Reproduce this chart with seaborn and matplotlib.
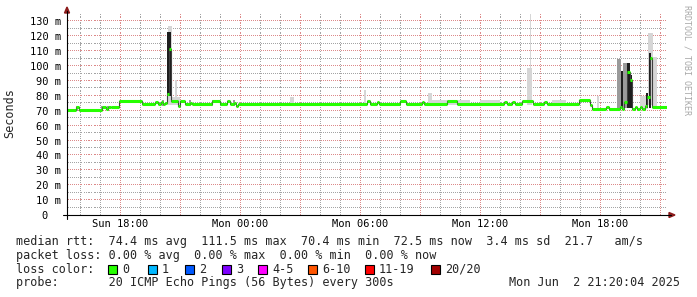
import numpy as np
import pandas as pd
import matplotlib
matplotlib.use("Agg")
import matplotlib.pyplot as plt
import seaborn as sns
from matplotlib.patches import Rectangle, Polygon
from matplotlib.lines import Line2D

# ---------------- data ----------------
# median rtt (ms), step values starting at each hour mark (hours since Sun 00:00)
med_hours = [15.35, 15.80, 15.95, 17.10, 17.30, 17.40, 17.55, 17.95, 19.10, 19.75,
             19.90, 20.05, 20.15, 20.25, 20.35, 20.45, 20.55, 20.90, 21.00, 21.25,
             21.50, 21.60, 22.60, 23.00, 23.35, 23.50, 23.70, 23.80, 23.90, 30.35,
             30.50, 30.85, 30.95, 32.00, 32.30, 33.10, 33.20, 34.35, 34.85, 37.20,
             37.35, 37.60, 37.75, 38.10, 38.65, 39.20, 39.35, 40.95, 41.50, 41.60,
             42.30, 42.45, 43.00, 43.10, 43.20, 43.35, 43.50, 43.60, 43.75, 43.85,
             44.00, 44.10, 44.25, 44.35, 44.50, 44.60, 45.35]
med_ms = [70.8, 72.3, 70.8, 72.3, 71.0, 72.3, 72.6, 76.6, 74.4, 76.0,
          74.4, 76.0, 74.4, 75.5, 81.0, 111.5, 76.6, 73.5, 76.6, 74.4,
          75.5, 74.4, 76.6, 74.4, 76.6, 74.4, 75.5, 73.5, 74.4, 76.6,
          74.4, 76.0, 74.4, 76.6, 74.4, 76.0, 74.4, 76.6, 74.4, 76.0,
          74.4, 76.0, 74.4, 76.6, 74.4, 76.0, 74.4, 77.3, 74.0, 70.9,
          72.3, 70.9, 72.3, 70.9, 76.0, 96.2, 90.6, 70.9, 72.3, 70.9,
          72.3, 70.9, 73.2, 79.0, 105.2, 72.4, 72.4]

# light smoke (ping spread)
light_start = [20.40, 20.725, 20.60, 26.50, 30.20, 33.40, 33.60, 36.00, 38.35, 38.475,
               39.60, 41.85, 44.00, 44.40, 44.65]
light_end = [20.60, 20.825, 21.00, 26.70, 30.30, 33.60, 35.50, 37.00, 38.60, 38.525,
             40.30, 41.95, 44.40, 44.65, 44.85]
light_lo = [74, 74, 74, 74, 74, 74, 74, 74, 74, 74, 74, 70, 71, 74, 72]
light_hi = [127, 90.6, 79, 79, 84, 82, 77.5, 77.5, 98.5, 135, 77.5, 80, 80, 122, 106]

# medium smoke
mid_start = [42.85, 43.15, 15.80, 17.05, 17.35, 20.10, 21.45, 22.60, 23.65]
mid_end = [43.05, 43.35, 15.90, 17.15, 17.45, 20.20, 21.55, 22.65, 23.75]
mid_lo = [71, 72, 70, 70, 70, 73, 73, 73, 73]
mid_hi = [105, 102, 73.5, 73.5, 73.5, 77, 77, 77, 77]

# dark smoke (dense ping cluster)
dark_start = [20.35, 43.35, 43.50, 44.30, 44.45, 43.05]
dark_end = [20.525, 43.475, 43.60, 44.40, 44.55, 43.15]
dark_lo = [80, 72, 72, 72, 72, 71]
dark_hi = [123, 102, 94, 82, 108.7, 97]

tick_hours = [18, 24, 30, 36, 42]
tick_labels = ["Sun 18:00", "Mon 00:00", "Mon 06:00", "Mon 12:00", "Mon 18:00"]
y_ticks = [0, 10, 20, 30, 40, 50, 60, 70, 80, 90, 100, 110, 120, 130]
y_labels = ["0  ", "10 m", "20 m", "30 m", "40 m", "50 m", "60 m", "70 m", "80 m",
            "90 m", "100 m", "110 m", "120 m", "130 m"]

loss_labels = ["0", "1", "2", "3", "4-5", "6-10", "11-19", "20/20"]
loss_colors = ["#26ff00", "#00b8ff", "#0059ff", "#7e00ff", "#ff00ff", "#ff5500",
               "#ff0000", "#a10000"]

rtt_line = "median rtt:  74.4 ms avg  111.5 ms max  70.4 ms min  72.5 ms now  3.4 ms sd  21.7   am/s"
loss_line = "packet loss: 0.00 % avg  0.00 % max  0.00 % min  0.00 % now"
probe_line = "probe:       20 ICMP Echo Pings (56 Bytes) every 300s"
date_text = "Mon Jun  2 21:20:04 2025"

# ---------------- figure ----------------
sns.set_theme(style="white")
plt.rcParams["font.family"] = ["DejaVu Sans Mono", "DejaVu Sans"]
MONO = "DejaVu Sans Mono"

W, H = 697, 297
fig = plt.figure(figsize=(W / 100, H / 100), dpi=100)
fig.patch.set_facecolor("white")


def fx(x):
    return x / W


def fy(y):
    return 1 - y / H


ax = fig.add_axes([fx(67), fy(215), 600 / W, 201 / H])
ax.set_facecolor("white")
x0, x1 = 15.35, 45.35
ax.set_xlim(x0, x1)
ax.set_ylim(0, 135)

# dotted grid drawn as single pixels every other pixel
minor_c = "#a4a4a4"
major_c = "#dc8a8a"
px_x = (x1 - x0) / 600.0     # hours per pixel
px_y = 135.0 / 201.0         # ms per pixel
ys_dots = np.arange(0.5 * px_y, 135, 2 * px_y)
xs_dots = np.arange(x0 + 0.5 * px_x, x1, 2 * px_x)
minor_h = [h for h in range(16, 46) if h % 3 != 0]
major_h = list(range(18, 46, 3))
minor_v = list(range(5, 136, 10))
major_v = list(range(10, 131, 10))


def dots_v(hours):
    xx = np.repeat(hours, len(ys_dots))
    yy = np.tile(ys_dots, len(hours))
    return xx, yy


def dots_h(vals):
    xx = np.tile(xs_dots, len(vals))
    yy = np.repeat(vals, len(xs_dots))
    return xx, yy


for (xx, yy), c in [(dots_v(minor_h), minor_c), (dots_h(minor_v), minor_c),
                    (dots_v(major_h), major_c), (dots_h(major_v), major_c)]:
    ax.plot(xx, yy, ls="none", marker=",", color=c, zorder=0, antialiased=False)

# smoke
ax.bar(light_start, np.array(light_hi) - np.array(light_lo),
       width=np.array(light_end) - np.array(light_start), bottom=light_lo,
       align="edge", color="#d6d6d6", linewidth=0, zorder=1)
ax.bar(mid_start, np.array(mid_hi) - np.array(mid_lo),
       width=np.array(mid_end) - np.array(mid_start), bottom=mid_lo,
       align="edge", color="#9a9a9a", linewidth=0, zorder=2)
ax.bar(dark_start, np.array(dark_hi) - np.array(dark_lo),
       width=np.array(dark_end) - np.array(dark_start), bottom=dark_lo,
       align="edge", color="#1e1e1e", linewidth=0, zorder=3)

# median: dark step connectors + green segments
df = pd.DataFrame({"hours": med_hours, "ms": med_ms})
sns.lineplot(data=df, x="hours", y="ms", drawstyle="steps-post", color="#404040",
             lw=0.8, estimator=None, sort=False, ax=ax, zorder=4)
ax.hlines(med_ms[:-1], med_hours[:-1], med_hours[1:], color="#26ff00",
          lw=2.2, zorder=5, capstyle="butt")

# axes / ticks
for s in ax.spines.values():
    s.set_visible(False)
ax.set_xlabel("")
ax.set_ylabel("")
ax.set_xticks(tick_hours)
ax.set_xticklabels(tick_labels, fontsize=7.5, family=MONO, color="#000000")
ax.set_yticks(y_ticks)
ax.set_yticklabels(y_labels, fontsize=7.5, family=MONO, color="#000000")
ax.tick_params(axis="both", length=0)
ax.tick_params(axis="y", pad=4.3)
ax.tick_params(axis="x", pad=3.0)
ax.grid(False)

# axis lines and arrows (figure pixel coords)
fig.add_artist(Line2D([fx(63), fx(671)], [fy(215), fy(215)], color="black", lw=0.8))
fig.add_artist(Line2D([fx(67), fx(67)], [fy(219), fy(11)], color="black", lw=0.8))
arrow_c = "#8b1a1a"
fig.add_artist(Polygon([[fx(64.5), fy(13)], [fx(69.5), fy(13)], [fx(67), fy(7)]],
                       closed=True, color=arrow_c, transform=fig.transFigure))
fig.add_artist(Polygon([[fx(669), fy(212.5)], [fx(669), fy(217.5)], [fx(675), fy(215)]],
                       closed=True, color=arrow_c, transform=fig.transFigure))

# y label and watermark
fig.text(fx(10), fy(113.5), "Seconds", rotation=90, ha="center", va="center",
         fontsize=8.5, family=MONO)
fig.text(fx(687), fy(5), "RRDTOOL / TOBI OETIKER", rotation=270, ha="center",
         va="top", fontsize=6, family=MONO, color="#a8a8a8")

# legend rows
fs = 8.5
fig.text(fx(16), fy(245.5), rtt_line, fontsize=fs, family=MONO, va="baseline")
fig.text(fx(16), fy(259), loss_line, fontsize=fs, family=MONO, va="baseline")
fig.text(fx(16), fy(272.7), "loss color:", fontsize=fs, family=MONO, va="baseline")
box_x = [108, 148, 185, 222, 258, 308, 365, 431]
for lab, c, bx in zip(loss_labels, loss_colors, box_x):
    fig.add_artist(Rectangle((fx(bx), fy(273.5)), 9 / W, 9 / H, facecolor=c,
                             edgecolor="black", lw=0.8, transform=fig.transFigure))
    fig.text(fx(bx + 14), fy(272.7), lab, fontsize=fs, family=MONO, va="baseline")
fig.text(fx(16), fy(286.3), probe_line, fontsize=fs, family=MONO, va="baseline")
fig.text(fx(680), fy(286.3), date_text, fontsize=fs, family=MONO, va="baseline",
         ha="right")

fig.savefig("out.png", dpi=100, facecolor="white")
